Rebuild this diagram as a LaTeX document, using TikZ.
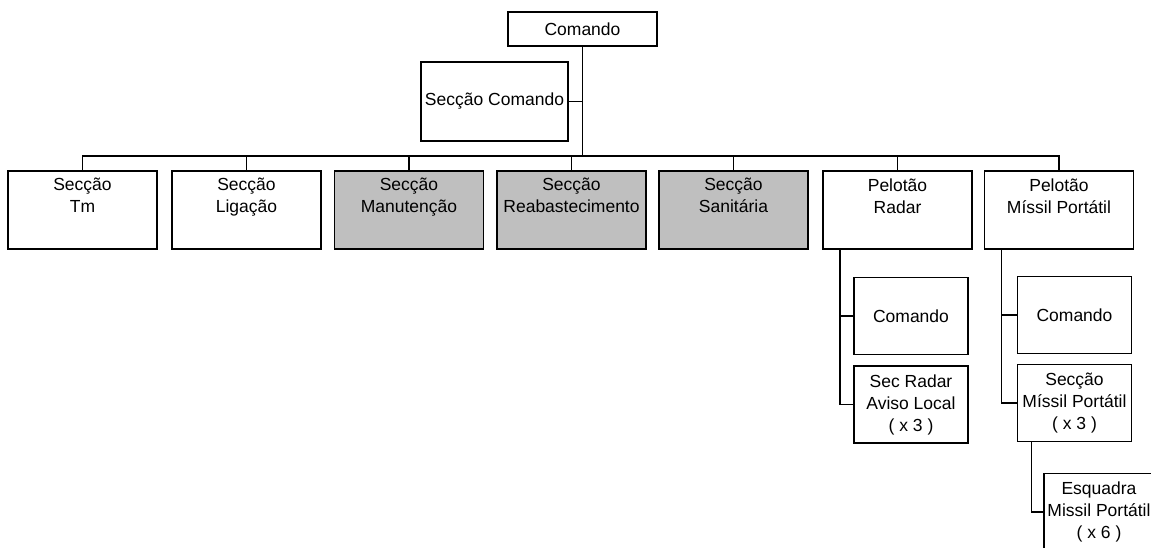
\documentclass[tikz,border=0pt]{standalone}
\usepackage{fontspec}
\setmainfont{Liberation Sans}
\usetikzlibrary{calc,positioning}
\tikzset{
  unit/.style={draw=black, line width=1.8pt, fill=white, align=center, inner sep=0pt, font=\fontsize{17.5}{22}\selectfont},
  sec/.style={unit, minimum width=149pt, minimum height=78pt},
  sub/.style={unit, minimum width=114pt, minimum height=77pt},
  link/.style={draw=black, line width=1.7pt}
}

\begin{document}
\begin{tikzpicture}[x=1pt,y=-1pt]
  \clip (0,0) rectangle (1151,547);
  \node[unit, minimum width=149pt, minimum height=34pt] (cmd) at (582.5,29) {Comando};
  \node[unit, minimum width=147pt, minimum height=79pt] (seccmd) at (494.5,101.5) {Secção Comando};
  \coordinate (bus) at (582.5,156);
  \draw[link] (cmd) -- (bus);
  \draw[link] (seccmd.east) -- (seccmd.east -| bus);
  \foreach \nm/\x/\fc/\txt in {tm/82.5/white/{Secção\\Tm}, lig/246.5/white/{Secção\\Ligação},
      man/409/black!25/{Secção\\Manutenção}, reab/571.5/black!25/{Secção\\Reabastecimento},
      san/733.5/black!25/{Secção\\Sanitária}, radar/897.5/white/{Pelotão\\Radar},
      missil/1059/white/{Pelotão\\Míssil Portátil}}{
    \node[sec, fill=\fc] (\nm) at (\x,210) {\txt\\\strut};
    \draw[link] (bus) -| (\nm.north);
  }
  % pelotao radar
  \node[sub] (rcmd) at (911,316) {Comando};
  \node[sub] (raviso) at (911,404.5) {Sec Radar\\Aviso Local\\( x 3 )};
  \coordinate (rdrop) at ([xshift=18pt]radar.south west);
  \draw[link] (rdrop) |- (rcmd.west);
  \draw[link] (rdrop) |- (raviso.west);
  % pelotao missil portatil
  \node[sub] (mcmd) at (1074.5,315) {Comando};
  \node[sub] (msec) at (1074.5,403) {Secção\\Míssil Portátil\\( x 3 )};
  \coordinate (mdrop) at ([xshift=18pt]missil.south west);
  \draw[link] (mdrop) |- (mcmd.west);
  \draw[link] (mdrop) |- (msec.west);
  \node[sub, minimum width=110pt] (esq) at (1099,512) {Esquadra\\Missil Portátil\\( x 6 )};
  \coordinate (edrop) at ([xshift=15pt]msec.south west);
  \draw[link] (edrop) |- (esq.west);
\end{tikzpicture}
\end{document}
